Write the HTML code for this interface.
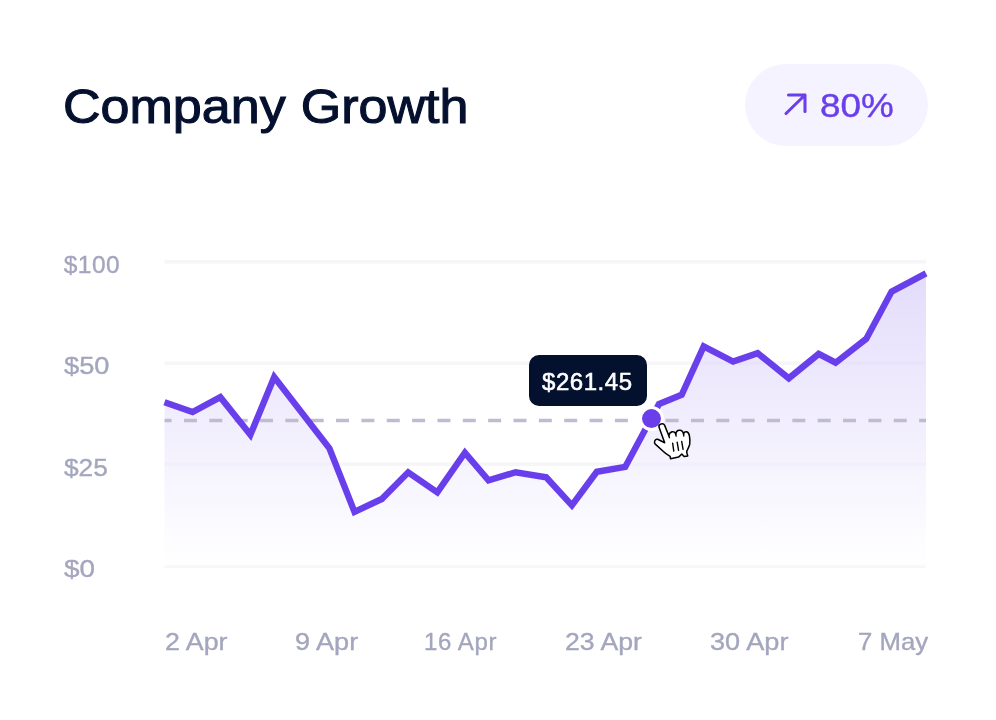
<!DOCTYPE html>
<html lang="en">
<head>
<meta charset="utf-8">
<title>Company Growth</title>
<style>
  html, body { margin: 0; padding: 0; background: #ffffff; }
  body { width: 996px; height: 720px; position: relative; overflow: hidden;
         font-family: "Liberation Sans", sans-serif; }
  .abs { position: absolute; white-space: nowrap; line-height: 1; transform-origin: 0 50%; }
  #title { left: 62.800px; top: 81.900px; font-size: 48.500px; color: #04102e;
           transform: scaleX(1.073); word-spacing: 0.500px; -webkit-text-stroke: 1.050px #04102e; }
  #pill { left: 745px; top: 63.5px; width: 183px; height: 82px; border-radius: 41px;
          background: #f5f3ff; }
  #pct { left: 820px; top: 89.200px; font-size: 33.500px; color: #6a3fea; transform: scaleX(1.100);
         -webkit-text-stroke: 0.4px #6a3fea; }
  .ylab { left: 63.800px; font-size: 24.500px; color: #a3a6bd; -webkit-text-stroke: 0.35px #a3a6bd; }
  .xlab { top: 629.600px; font-size: 24px; color: #a3a6bd; -webkit-text-stroke: 0.35px #a3a6bd; }
  #tip { left: 529px; top: 354.5px; width: 118px; height: 51px; border-radius: 10px;
         background: #03102e; }
  #tiptxt { left: 542px; top: 370px; font-size: 24px; color: #ffffff; letter-spacing: 0.55px;
            -webkit-text-stroke: 0.55px #ffffff; }
  svg { position: absolute; left: 0; top: 0; }
</style>
</head>
<body>
  <div id="title" class="abs">Company Growth</div>

  <div id="pill" class="abs"></div>
  <div id="pct" class="abs">80%</div>

  <div class="abs ylab" style="top:253.40px;letter-spacing:0.45px">$100</div>
  <div class="abs ylab" style="top:354.40px;transform:scaleX(1.112)">$50</div>
  <div class="abs ylab" style="top:456.10px;transform:scaleX(1.072)">$25</div>
  <div class="abs ylab" style="top:557.40px;transform:scaleX(1.137)">$0</div>

  <svg width="996" height="720" viewBox="0 0 996 720">
    <defs>
      <linearGradient id="fillg" x1="0" y1="262" x2="0" y2="566" gradientUnits="userSpaceOnUse">
        <stop offset="0" stop-color="#cfc3f8" stop-opacity="0.6"/>
        <stop offset="1" stop-color="#ffffff" stop-opacity="0.6"/>
      </linearGradient>
    </defs>
    <!-- arrow in pill -->
    <g fill="none" stroke="#6a3fea" stroke-width="3.100" stroke-linecap="round" stroke-linejoin="round">
      <path d="M786 113.5 L805 95 M788.5 95 H805 V111.5"/>
    </g>
    <!-- grid -->
    <g stroke="#f6f6f9" stroke-width="3.500">
      <path d="M164.500 261.700 H926 M164.500 363.300 H926 M164.500 464.200 H926 M164.500 566.000 H926"/>
    </g>
    <!-- area fill -->
    <path fill="url(#fillg)" d="M164.500 402.200 L192.600 412.000 L220.300 397.200 L250.400 434.800 L274.200 377.000 L329.400 448.400 L354.500 511.900 L381.800 499.000 L408.200 472.300 L437.300 492.400 L464.900 452.700 L488.500 480.300 L515.600 472.300 L546.200 477.300 L571.900 505.300 L596.800 471.800 L625.200 466.900 L659.000 404.000 L681.700 394.800 L703.700 346.400 L733.100 361.500 L757.700 353.200 L788.800 378.300 L818.700 353.900 L835.600 362.700 L866.200 338.900 L891.600 291.600 L926.000 273.300 L926 566 L164.500 566 Z"/>
    <!-- dashed -->
    <path d="M164.500 420.500 H926" stroke="#bfbcd2" stroke-width="3.500" stroke-dasharray="13 12.350" stroke-dashoffset="5.900" fill="none"/>
    <!-- line -->
    <path fill="none" stroke="#693fec" stroke-width="6.400" stroke-linejoin="miter" stroke-miterlimit="10" d="M164.500 402.200 L192.600 412.000 L220.300 397.200 L250.400 434.800 L274.200 377.000 L329.400 448.400 L354.500 511.900 L381.800 499.000 L408.200 472.300 L437.300 492.400 L464.900 452.700 L488.500 480.300 L515.600 472.300 L546.200 477.300 L571.900 505.300 L596.800 471.800 L625.200 466.900 L659.000 404.000 L681.700 394.800 L703.700 346.400 L733.100 361.500 L757.700 353.200 L788.800 378.300 L818.700 353.900 L835.600 362.700 L866.200 338.900 L891.600 291.600 L926.000 273.300"/>
    <!-- dot -->
    <circle cx="651.500" cy="418.600" r="11" fill="#6a3fea" stroke="#ffffff" stroke-width="3"/>
  </svg>

  <div id="tip" class="abs"></div>
  <div id="tiptxt" class="abs">$261.45</div>

  <div class="abs xlab" style="left:165px;transform:scaleX(1.115)">2 Apr</div>
  <div class="abs xlab" style="left:295px;transform:scaleX(1.127)">9 Apr</div>
  <div class="abs xlab" style="left:424px;letter-spacing:0.60px">16 Apr</div>
  <div class="abs xlab" style="left:565px;transform:scaleX(1.109)">23 Apr</div>
  <div class="abs xlab" style="left:710px;transform:scaleX(1.130)">30 Apr</div>
  <div class="abs xlab" style="left:857.600px;transform:scaleX(1.072)">7 May</div>

  <!-- cursor -->
  <svg width="996" height="720" viewBox="0 0 996 720" style="pointer-events:none">
    <g transform="translate(648 416) scale(0.069444)">
      <path fill="#ffffff" stroke="#000000" stroke-width="22" stroke-linejoin="round" d="M158 160 C150 118 218 92 240 135 L300 285 C305 225 385 200 400 262 C405 190 500 180 512 262 C520 205 590 215 597 290 C605 330 605 380 600 410 C590 460 555 490 557 520 L572 575 L520 583 L487 548 L440 592 L325 617 L318 582 C280 560 240 530 222 512 L105 405 C80 380 100 325 140 335 L240 385 Z"/>
      <path d="M355 392 L371 505 M420 377 L440 495 M485 365 L505 480 M300 285 L309 312 M400 262 L405 290 M512 262 L515 288" fill="none" stroke="#000000" stroke-width="20" stroke-linecap="round"/>
    </g>
  </svg>
</body>
</html>
